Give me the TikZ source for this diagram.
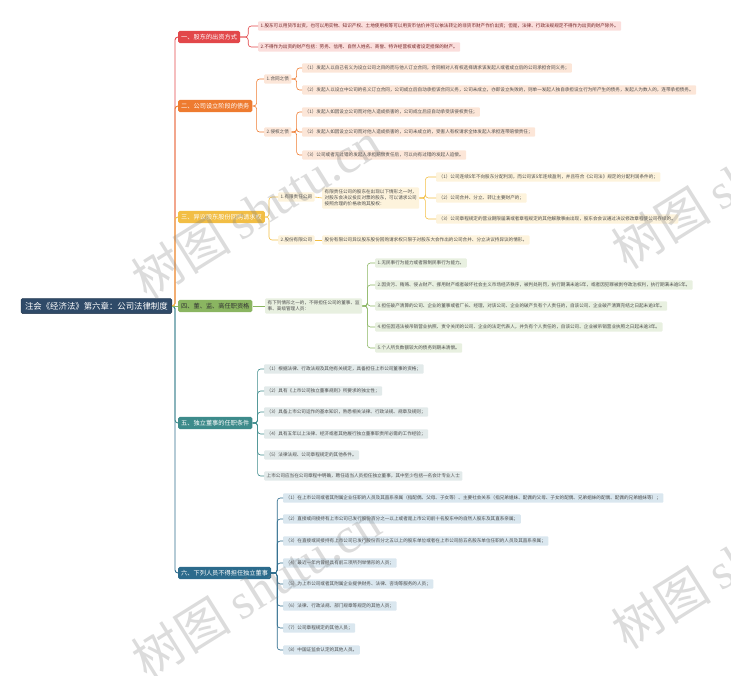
\documentclass[tikz,border=0pt]{standalone}
\usepackage{fontspec}
\setmainfont{Noto Sans CJK SC}
\newfontfamily\wmlatin{Liberation Serif}
\XeTeXlinebreaklocale "zh"
\usepackage{tikz}

\definecolor{rootc}{HTML}{2F4A68}
\definecolor{redc}{HTML}{E2474A}
\definecolor{orangec}{HTML}{EE7B30}
\definecolor{goldc}{HTML}{F2BE45}
\definecolor{greenc}{HTML}{8AB561}
\definecolor{tealc}{HTML}{3D8B8B}
\definecolor{bluec}{HTML}{2C6B8C}
\definecolor{redl}{HTML}{FBDEDC}
\definecolor{orangel}{HTML}{FCE6D8}
\definecolor{goldl}{HTML}{FDF3DC}
\definecolor{greenl}{HTML}{E8F0E0}
\definecolor{teall}{HTML}{E2EAEA}
\definecolor{bluel}{HTML}{DAE7EF}

\tikzset{
  rootbox/.style={draw=rootc!70!black, fill=rootc, text=white, rounded corners=1.5pt,
    font=\fontsize{8.4}{10}\selectfont, inner xsep=4pt, inner ysep=3.6pt},
  branch/.style={rounded corners=1.5pt, font=\fontsize{6.2}{7.5}\selectfont,
    inner xsep=3pt, inner ysep=3.2pt, anchor=west, text=white},
  leaf/.style={rounded corners=1pt, font=\fontsize{4.6}{6}\selectfont,
    inner xsep=2.5pt, inner ysep=2.4pt, anchor=west, text=black!70},
  mainlink/.style={line width=0.9pt, rounded corners=3pt},
  leaflink/.style={line width=0.6pt, rounded corners=3pt},
  wmark/.style={rotate=32, text=gray, text opacity=0.28, font=\fontsize{50}{54}\selectfont},
}

\begin{document}
\begin{tikzpicture}[x=1pt,y=-1pt]
\useasboundingbox (0,0) rectangle (731,675);

% root and main branches
\node[rootbox, anchor=east] (root) at (172,306) {注会《经济法》第六章：公司法律制度};
\node[branch, fill=redc] (b1) at (178,37) {一、股东的出资方式};
\node[branch, fill=orangec] (b2) at (178,106) {二、公司设立阶段的债务};
\node[branch, fill=goldc] (b3) at (178,217) {三、异议股东股份回购请求权};
\node[branch, fill=greenc, text=black!80] (b4) at (178,306) {四、董、监、高任职资格};
\node[branch, fill=tealc] (b5) at (178,423) {五、独立董事的任职条件};
\node[branch, fill=bluec] (b6) at (178,573) {六、下列人员不得担任独立董事};

\draw[mainlink, redc] (root.east) -- ++(3,0) |- (b1.west);
\draw[mainlink, bluec] (root.east) -- ++(3,0) |- (b6.west);
\draw[mainlink, orangec] (root.east) -- ++(3,0) |- (b2.west);
\draw[mainlink, tealc] (root.east) -- ++(3,0) |- (b5.west);
\draw[mainlink, goldc] (root.east) -- ++(3,0) |- (b3.west);
\draw[mainlink, greenc] (root.east) -- (b4.west);

% 一
\foreach \y/\t [count=\i] in {
  26/{1.股东可以用货币出资，也可以用实物、知识产权、土地使用权等可以用货币估价并可以依法转让的非货币财产作价出资；但是，法律、行政法规规定不得作为出资的财产除外。},
  47/{2.不得作为出资的财产包括：劳务、信用、自然人姓名、商誉、特许经营权或者设定担保的财产。}}{
  \node[leaf, fill=redl, text=redc!50!black] (b1l\i) at (258,\y) {\t};
  \draw[leaflink, redc] (b1.east) -- ++(8,0) |- (b1l\i.west);
}

% 二
\node[leaf, fill=orangel] (b2s1) at (264,79) {1.合同之债};
\node[leaf, fill=orangel] (b2s2) at (264,132) {2.侵权之债};
\draw[leaflink, orangec] (b2.east) -- ++(4,0) |- (b2s1.west);
\draw[leaflink, orangec] (b2.east) -- ++(4,0) |- (b2s2.west);
\foreach \y/\t [count=\i] in {
  68/{（1）发起人以自己名义为设立公司之目的而与他人订立合同，合同相对人有权选择请求该发起人或者成立后的公司承担合同义务；},
  90/{（2）发起人以设立中公司的名义订立合同，公司成立后自动承担该合同义务，公司未成立，亦即设立失败的，则单一发起人独自承担设立行为所产生的债务，发起人为数人的，连带承担债务。}}{
  \node[leaf, fill=orangel] (b2a\i) at (302,\y) {\t};
  \draw[leaflink, orangec] (b2s1.east) -- ++(5,0) |- (b2a\i.west);
}
\foreach \y/\t [count=\i] in {
  112/{（1）发起人如因设立公司而对他人造成损害的，公司成立后应自动承受该侵权责任；},
  132/{（2）发起人如因设立公司而对他人造成损害的，公司未成立的，受害人有权请求全体发起人承担连带赔偿责任；},
  155/{（3）公司或者无过错的发起人承担赔偿责任后，可以向有过错的发起人追偿。}}{
  \node[leaf, fill=orangel] (b2b\i) at (302,\y) {\t};
  \draw[leaflink, orangec] (b2s2.east) -- ++(5,0) |- (b2b\i.west);
}

% 三
\node[leaf, fill=goldl] (b3s1) at (278,197) {1.有限责任公司};
\node[leaf, fill=goldl] (b3s2) at (278,240) {2.股份有限公司};
\draw[leaflink, goldc] (b3.east) -- ++(4,0) |- (b3s1.west);
\draw[leaflink, goldc] (b3.east) -- ++(4,0) |- (b3s2.west);
\node[leaf, fill=goldl, align=left] (b3m) at (322,198)
  {有限责任公司的股东在出现以下情形之一时，\\对股东会决议投反对票的股东，可以请求公司\\按照合理的价格收购其股权：};
\draw[leaflink, goldc] (b3s1.east) -- (b3m.west);
\foreach \y/\t [count=\i] in {
  177/{（1）公司连续5年不向股东分配利润，而公司该5年连续盈利，并且符合《公司法》规定的分配利润条件的；},
  198/{（2）公司合并、分立、转让主要财产的；},
  219/{（3）公司章程规定的营业期限届满或者章程规定的其他解散事由出现，股东会会议通过决议修改章程使公司存续的。}}{
  \node[leaf, fill=goldl] (b3l\i) at (436,\y) {\t};
  \draw[leaflink, goldc] (b3m.east) -- ++(6,0) |- (b3l\i.west);
}
\node[leaf, fill=goldl] (b3n) at (322,240) {股份有限公司异议股东股份回购请求权只限于对股东大会作出的公司合并、分立决议持异议的情形。};
\draw[leaflink, goldc] (b3s2.east) -- (b3n.west);

% 四
\node[leaf, fill=greenl, align=left] (b4m) at (265,306)
  {有下列情形之一的，不得担任公司的董事、监\\事、高级管理人员：};
\draw[leaflink, greenc] (b4.east) -- (b4m.west);
\foreach \y/\t [count=\i] in {
  263/{1.无民事行为能力或者限制民事行为能力。},
  285/{2.因贪污、贿赂、侵占财产、挪用财产或者破坏社会主义市场经济秩序，被判处刑罚，执行期满未逾5年，或者因犯罪被剥夺政治权利，执行期满未逾5年。},
  306/{3.担任破产清算的公司、企业的董事或者厂长、经理，对该公司、企业的破产负有个人责任的，自该公司、企业破产清算完结之日起未逾3年。},
  327/{4.担任因违法被吊销营业执照、责令关闭的公司、企业的法定代表人，并负有个人责任的，自该公司、企业被吊销营业执照之日起未逾3年。},
  348/{5.个人所负数额较大的债务到期未清偿。}}{
  \node[leaf, fill=greenl] (b4l\i) at (375,\y) {\t};
  \draw[leaflink, greenc] (b4m.east) -- ++(5,0) |- (b4l\i.west);
}

% 五
\foreach \y/\t [count=\i] in {
  369/{（1）根据法律、行政法规及其他有关规定，具备担任上市公司董事的资格；},
  391/{（2）具有《上市公司独立董事规则》所要求的独立性；},
  412/{（3）具备上市公司运作的基本知识，熟悉相关法律、行政法规、规章及规则；},
  434/{（4）具有五年以上法律、经济或者其他履行独立董事职责所必需的工作经验；},
  455/{（5）法律法规、公司章程规定的其他条件。},
  476/{上市公司应当在公司章程中明确，聘任适当人员担任独立董事，其中至少包括一名会计专业人士}}{
  \node[leaf, fill=teall] (b5l\i) at (264,\y) {\t};
  \draw[leaflink, tealc] (b5.east) -- ++(5,0) |- (b5l\i.west);
}

% 六
\foreach \y/\t [count=\i] in {
  498/{（1）在上市公司或者其附属企业任职的人员及其直系亲属（指配偶、父母、子女等）、主要社会关系（指兄弟姐妹、配偶的父母、子女的配偶、兄弟姐妹的配偶、配偶的兄弟姐妹等）；},
  519/{（2）直接或间接持有上市公司已发行股份百分之一以上或者是上市公司前十名股东中的自然人股东及其直系亲属；},
  541/{（3）在直接或间接持有上市公司已发行股份百分之五以上的股东单位或者在上市公司前五名股东单位任职的人员及其直系亲属；},
  563/{（4）最近一年内曾经具有前三项所列举情形的人员；},
  584/{（5）为上市公司或者其附属企业提供财务、法律、咨询等服务的人员；},
  606/{（6）法律、行政法规、部门规章等规定的其他人员；},
  628/{（7）公司章程规定的其他人员；},
  650/{（8）中国证监会认定的其他人员。}}{
  \node[leaf, fill=bluel] (b6l\i) at (283,\y) {\t};
  \draw[leaflink, bluec] (b6.east) -- ++(6,0) |- (b6l\i.west);
}

% watermarks
\foreach \x/\y [count=\i] in {256/210, 736/180, 256/590, 736/560}
  \node[wmark] (wm\i) at (\x,\y) {树图 {\wmlatin shutu.cn}};
\end{tikzpicture}
\end{document}
